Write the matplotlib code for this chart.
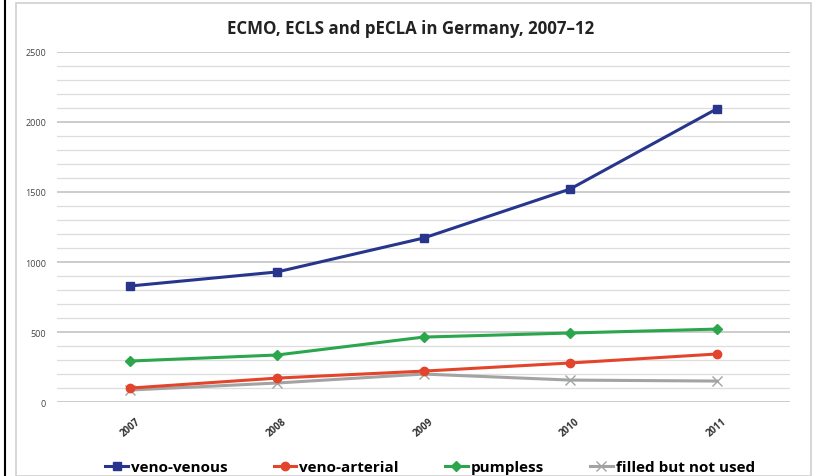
import numpy as np
import matplotlib.pyplot as plt
from matplotlib.patches import Rectangle
from matplotlib.lines import Line2D

years = ["2007", "2008", "2009", "2010", "2011"]
veno_venous = [829, 929, 1171, 1521, 2093]
veno_arterial = [100, 171, 221, 279, 343]
pumpless = [293, 336, 464, 493, 521]
filled_not_used = [86, 136, 200, 157, 150]

plt.rcParams["font.family"] = ["Open Sans", "DejaVu Sans"]

fig = plt.figure(figsize=(8.16, 4.77), dpi=100)
ax = fig.add_axes([0.070, 0.155, 0.898, 0.734])

# frame around the chart and the black rule on the left
fig.patches.append(Rectangle((16 / 816, 0.0), 795 / 816, 1 - 4 / 477,
                             transform=fig.transFigure, fill=False,
                             edgecolor="#cfcfcf", linewidth=1.2))
fig.add_artist(Line2D([5 / 816, 5 / 816], [0, 1], transform=fig.transFigure,
                      color="black", linewidth=1.5))

x = np.arange(len(years))
ax.plot(x, veno_venous, color="#27368c", marker="s", markersize=6, linewidth=2.2,
        label="veno-venous", zorder=5)
ax.plot(x, veno_arterial, color="#e2452b", marker="o", markersize=6, linewidth=2.2,
        label="veno-arterial", zorder=4)
ax.plot(x, pumpless, color="#2ba64c", marker="D", markersize=5, linewidth=2.2,
        label="pumpless", zorder=4)
ax.plot(x, filled_not_used, color="#a3a3a3", marker="x", markersize=7, linewidth=2.2,
        label="filled but not used", zorder=3)

ax.set_xlim(-0.5, 4.5)
ax.set_ylim(0, 2500)
ax.set_yticks(np.arange(0, 2501, 500))
ax.set_yticks(np.arange(0, 2501, 100), minor=True)
ax.grid(axis="y", which="major", color="#c4c4c4", linewidth=1.2)
ax.grid(axis="y", which="minor", color="#dddddd", linewidth=0.9)
ax.set_axisbelow(True)

ax.set_xticks(x)
ax.set_xticklabels(years, rotation=40, fontsize=7, fontweight="bold", color="#333333")
ax.tick_params(axis="y", which="both", length=0, labelsize=6.5, labelcolor="#444444", pad=8)
ax.tick_params(axis="x", length=0, pad=10)
for s in ax.spines.values():
    s.set_visible(False)

fig.text(0.503, 0.94, "ECMO, ECLS and pECLA in Germany, 2007–12", ha="center",
         va="center", fontsize=12.2, fontweight="bold", color="#222222")

fig.legend(loc="center", bbox_to_anchor=(0.527, 0.018), ncol=4, frameon=False,
           prop={"weight": "bold", "size": 11}, handlelength=1.5,
           columnspacing=3.0, handletextpad=0.2)

fig.savefig("out.png", dpi=100)
